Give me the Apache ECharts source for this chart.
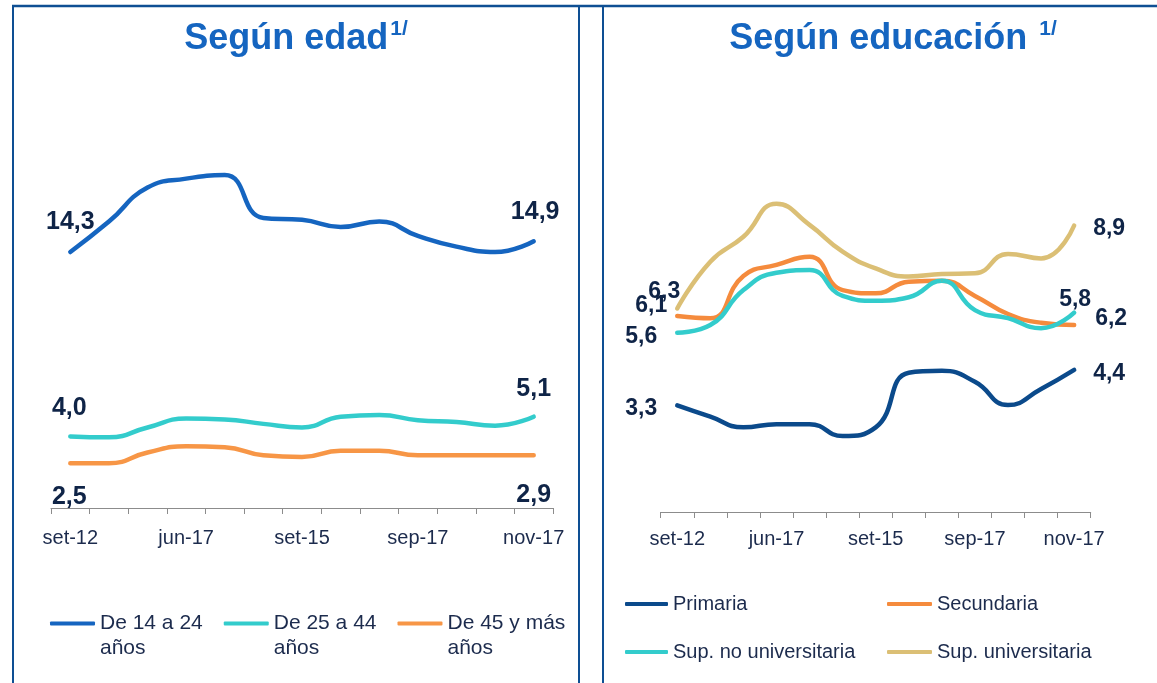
<!DOCTYPE html>
<html>
<head>
<meta charset="utf-8">
<script src="https://cdn.jsdelivr.net/npm/echarts@6/dist/echarts.min.js"></script>
<style>
  html, body { margin: 0; padding: 0; background: #fff; }
  #chart { width: 1157px; height: 683px; }
</style>
</head>
<body>
<div id="chart"></div>
<script>
  // categories (only every third one is labelled in the picture)
  const months = ['set-12', 'dic-12', 'mar-13', 'jun-17', 'set-14', 'dic-14', 'set-15',
                  'dic-15', 'mar-16', 'sep-17', 'ago-17', 'oct-17', 'nov-17'];

  // Según edad
  const ageNames = ['De 14 a 24\naños', 'De 25 a 44\naños', 'De 45 y más\naños'];
  const age1424 = [14.3, 16.0, 17.9, 18.4, 18.6, 16.2, 16.1, 15.7, 16.0, 15.2, 14.6, 14.3, 14.9];
  const age2544 = [4.0, 3.95, 4.5, 5.0, 4.95, 4.7, 4.5, 5.1, 5.2, 4.9, 4.8, 4.6, 5.1];
  const age45 = [2.5, 2.5, 3.1, 3.45, 3.4, 2.95, 2.85, 3.2, 3.2, 2.95, 2.95, 2.95, 2.95];
  const ageLabels = [['14,3', '14,9'], ['4,0', '5,1'], ['2,5', '2,9']];

  // Según educación
  const eduNames = ['Primaria', 'Secundaria', 'Sup. no universitaria', 'Sup. universitaria'];
  const primaria = [3.3, 2.95, 2.62, 2.72, 2.72, 2.35, 2.62, 4.31, 4.37, 4.03, 3.31, 3.81, 4.4];
  const secundaria = [6.07, 6.0, 7.31, 7.65, 7.9, 6.87, 6.77, 7.13, 7.16, 6.69, 6.13, 5.86, 5.79];
  const supNoUniv = [5.55, 5.79, 6.87, 7.41, 7.49, 6.69, 6.54, 6.65, 7.16, 6.25, 6.0, 5.69, 6.17];
  const supUniv = [6.3, 7.75, 8.52, 9.54, 8.89, 8.06, 7.54, 7.29, 7.37, 7.39, 7.99, 7.85, 8.87];
  const eduLabels = [['3,3', '4,4'], ['6,1', '6,2'], ['5,6', '5,8'], ['6,3', '8,9']];

  const font = '"Liberation Sans", Arial, sans-serif';
  const textColor = '#1c2b4d';
  const labelColor = '#0f2447';
  const titleColor = '#1565c0';
  const frameColor = '#0e4f93';

  let chartDom = document.getElementById('chart');
  let myChart = echarts.init(chartDom);

  // first and last point get a bold value label
  function withEndLabels(values, texts, offsets, size) {
    const last = values.length - 1;
    return values.map((v, i) => {
      if (i !== 0 && i !== last) return v;
      const k = i === 0 ? 0 : 1;
      return {
        value: v,
        label: {
          show: true, position: 'inside', offset: offsets[k], formatter: texts[k],
          fontSize: size, fontWeight: 'bold', color: labelColor, fontFamily: font
        }
      };
    });
  }

  function lineSeries(name, values, color, axis, texts, offsets, size) {
    return {
      name: name,
      type: 'line',
      xAxisIndex: axis,
      yAxisIndex: axis,
      smooth: true,
      clip: false,
      symbol: 'circle',
      symbolSize: 1,
      showSymbol: true,
      itemStyle: { color: color },
      lineStyle: { color: color, width: 4.5, cap: 'round' },
      data: withEndLabels(values, texts, offsets, size)
    };
  }

  const xAxisBase = {
    type: 'category',
    data: months,
    boundaryGap: true,
    axisLine: { lineStyle: { color: '#8c8c8c', width: 1 } },
    axisTick: { show: true, interval: 0, length: 6, lineStyle: { color: '#8c8c8c' } },
    axisLabel: { interval: 2, fontSize: 20, color: textColor, fontFamily: font }
  };

  let option = {
    animation: false,
    backgroundColor: '#fff',
    graphic: [
      { type: 'line', shape: { x1: 12, y1: 6, x2: 1157, y2: 6 }, style: { stroke: frameColor, lineWidth: 2.5 } },
      { type: 'line', shape: { x1: 13, y1: 6, x2: 13, y2: 683 }, style: { stroke: frameColor, lineWidth: 2 } },
      { type: 'line', shape: { x1: 579, y1: 6, x2: 579, y2: 683 }, style: { stroke: frameColor, lineWidth: 2 } },
      { type: 'line', shape: { x1: 603, y1: 6, x2: 603, y2: 683 }, style: { stroke: frameColor, lineWidth: 2 } },
      {
        type: 'text', x: 296, y: 39,
        style: {
          text: '{t|Según edad}{s|1/}', align: 'center', verticalAlign: 'middle',
          rich: {
            t: { fontSize: 36, fontWeight: 'bold', fill: titleColor, fontFamily: font, lineHeight: 40 },
            s: { fontSize: 21, fontWeight: 'bold', fill: titleColor, fontFamily: font, verticalAlign: 'top', lineHeight: 20, padding: [0, 0, 0, 2] }
          }
        }
      },
      {
        type: 'text', x: 893, y: 39,
        style: {
          text: '{t|Según educación }{s|1/}', align: 'center', verticalAlign: 'middle',
          rich: {
            t: { fontSize: 36, fontWeight: 'bold', fill: titleColor, fontFamily: font, lineHeight: 40 },
            s: { fontSize: 21, fontWeight: 'bold', fill: titleColor, fontFamily: font, verticalAlign: 'top', lineHeight: 20, padding: [0, 0, 0, 2] }
          }
        }
      }
    ],
    legend: [
      {
        // a blank first line keeps the icon level with the first text line
        data: ageNames, left: 50, top: 586, padding: 0, icon: 'roundRect',
        itemWidth: 45, itemHeight: 4, itemGap: 21, selectedMode: false,
        formatter: name => ' \n' + name,
        textStyle: { fontSize: 21, color: textColor, fontFamily: font, lineHeight: 25 }
      },
      {
        data: ['Primaria', 'Sup. no universitaria'], orient: 'vertical', left: 625, top: 594, padding: 0,
        icon: 'roundRect', itemWidth: 43, itemHeight: 4, itemGap: 28, selectedMode: false,
        textStyle: { fontSize: 20, color: textColor, fontFamily: font, lineHeight: 20 }
      },
      {
        data: ['Secundaria', 'Sup. universitaria'], orient: 'vertical', left: 887, top: 594, padding: 0,
        icon: 'roundRect', itemWidth: 45, itemHeight: 4, itemGap: 28, selectedMode: false,
        textStyle: { fontSize: 20, color: textColor, fontFamily: font, lineHeight: 20 }
      }
    ],
    grid: [
      { left: 51, width: 502, top: 150, height: 358 },
      { left: 660.7, width: 430, top: 189, height: 323 }
    ],
    xAxis: [
      Object.assign({}, xAxisBase, { gridIndex: 0, axisLabel: Object.assign({}, xAxisBase.axisLabel, { margin: 20 }) }),
      Object.assign({}, xAxisBase, { gridIndex: 1, axisLabel: Object.assign({}, xAxisBase.axisLabel, { margin: 17 }) })
    ],
    yAxis: [
      { gridIndex: 0, type: 'value', min: 0, max: 20, show: false },
      { gridIndex: 1, type: 'value', min: 0, max: 10, show: false }
    ],
    series: [
      lineSeries(ageNames[0], age1424, '#1565c0', 0, ageLabels[0], [[0, -30], [1.5, -29]], 25),
      lineSeries(ageNames[1], age2544, '#33cccc', 0, ageLabels[1], [[-1, -28], [0, -28]], 25),
      lineSeries(ageNames[2], age45, '#f79646', 0, ageLabels[2], [[-1, 34], [0, 40]], 25),
      lineSeries(eduNames[0], primaria, '#0b4a8b', 1, eduLabels[0], [[-36, 3], [35, 3.5]], 23),
      lineSeries(eduNames[1], secundaria, '#f58b3d', 1, eduLabels[1], [[-26, -10], [37, -6.5]], 23),
      lineSeries(eduNames[2], supNoUniv, '#33cccc', 1, eduLabels[2], [[-36, 4], [1, -13]], 23),
      lineSeries(eduNames[3], supUniv, '#dbbf75', 1, eduLabels[3], [[-13, -17], [35, 3]], 23)
    ]
  };

  option && myChart.setOption(option);
</script>
</body>
</html>
